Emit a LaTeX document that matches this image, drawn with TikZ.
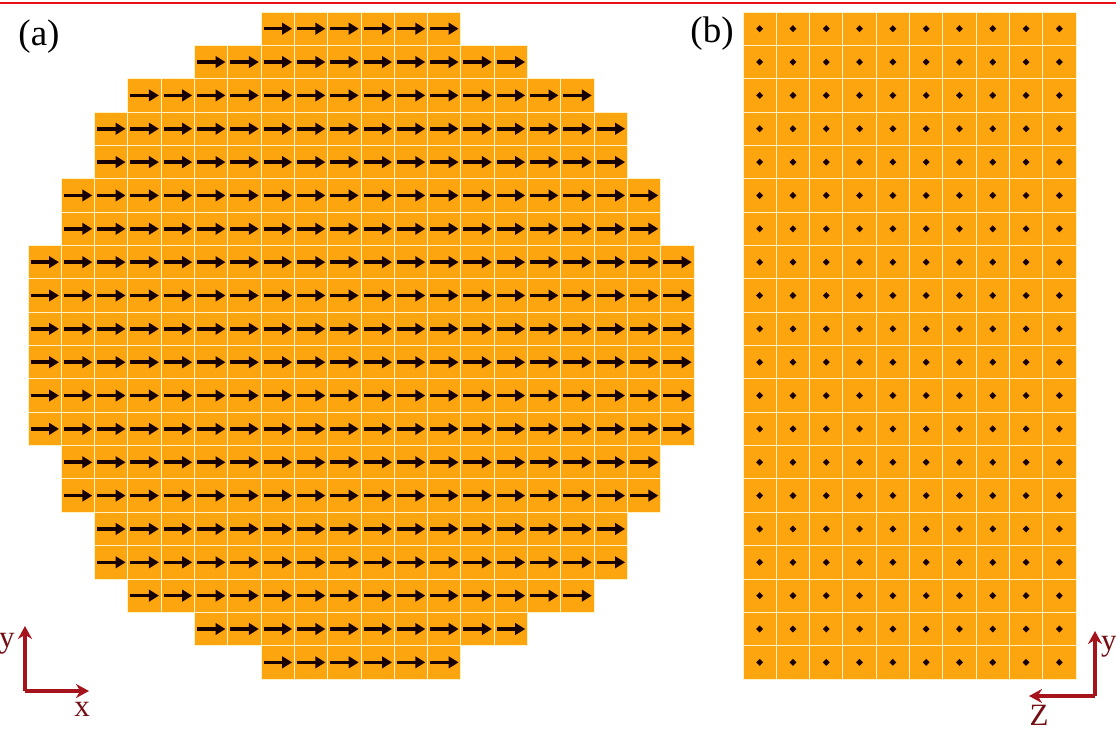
\documentclass[tikz,border=0pt]{standalone}
\usepackage{fontspec}
\setmainfont{Liberation Serif}
\usetikzlibrary{arrows.meta}
\definecolor{cellor}{HTML}{FDA50F}
\definecolor{cellline}{HTML}{FFF1C8}
\definecolor{axred}{HTML}{A5141C}
\definecolor{topred}{HTML}{E8101A}
\tikzset{
  cellbox/.style={fill=cellor, draw=cellline, line width=0.9},
  spinarrow/.style={black!90!red, line width=3.6, -{Triangle[length=10,width=11.5]}},
  spindot/.style={fill=black!90!red},
  axarrow/.style={axred, line width=3.8, -{Stealth[length=13,width=14]}},
  axlabel/.style={text=axred!70!black, font=\fontsize{31}{31}\selectfont, inner sep=0},
  panellabel/.style={font=\fontsize{37}{37}\selectfont, inner sep=0}
}
\begin{document}
\begin{tikzpicture}[x=1pt,y=-1pt]
\useasboundingbox (0,0) rectangle (1116,730);
\fill[white] (0,0) rectangle (1116,730);
\draw[topred, line width=2.6] (0,3) -- (1116,3);
% panel (a)
\foreach \r/\n in {0/6,1/10,2/14,3/16,4/16,5/18,6/18,7/20,8/20,9/20,10/20,11/20,12/20,13/18,14/18,15/16,16/16,17/14,18/10,19/6} {
  \pgfmathsetmacro\xs{28+(20-\n)/2*33.3}
  \pgfmathsetmacro\ya{12+\r*33.35}
  \foreach \c in {1,...,\n} {
    \pgfmathsetmacro\xa{\xs+(\c-1)*33.3}
    \path[cellbox] (\xa,\ya) rectangle ++(33.3,33.35);
    \draw[spinarrow] (\xa+2.5,\ya+16.7) -- (\xa+31,\ya+16.7);
  }
}
% panel (b)
\foreach \r in {0,...,19} {
  \pgfmathsetmacro\ya{12+\r*33.35}
  \foreach \c in {0,...,9} {
    \pgfmathsetmacro\xa{743+\c*33.3}
    \path[cellbox] (\xa,\ya) rectangle ++(33.3,33.35);
    \fill[spindot] (\xa+16.65,\ya+13.2) -- (\xa+20.1,\ya+16.7) -- (\xa+16.65,\ya+20.2) -- (\xa+13.2,\ya+16.7) -- cycle;
  }
}
\node[panellabel] (la) at (39,37) {(a)};
\node[panellabel] (lb) at (712,34) {(b)};
% axes (a)
\coordinate (oa) at (25,691);
\coordinate (ya) at (25,626);
\coordinate (xa) at (89,691);
\draw[axarrow] (oa) -- (ya);
\draw[axarrow] (oa) -- (xa);
\node[axlabel, anchor=base west] (lya) at (-1,647) {y};
\node[axlabel, anchor=base] (lxa) at (82,716) {x};
% axes (b)
\coordinate (ob) at (1095,696);
\coordinate (yb) at (1095,631);
\coordinate (zb) at (1029,696);
\draw[axarrow] (ob) -- (yb);
\draw[axarrow] (ob) -- (zb);
\node[axlabel, anchor=base west] (lyb) at (1101,650) {y};
\node[axlabel, anchor=base] (lzb) at (1039,725) {Z};
\end{tikzpicture}
\end{document}
